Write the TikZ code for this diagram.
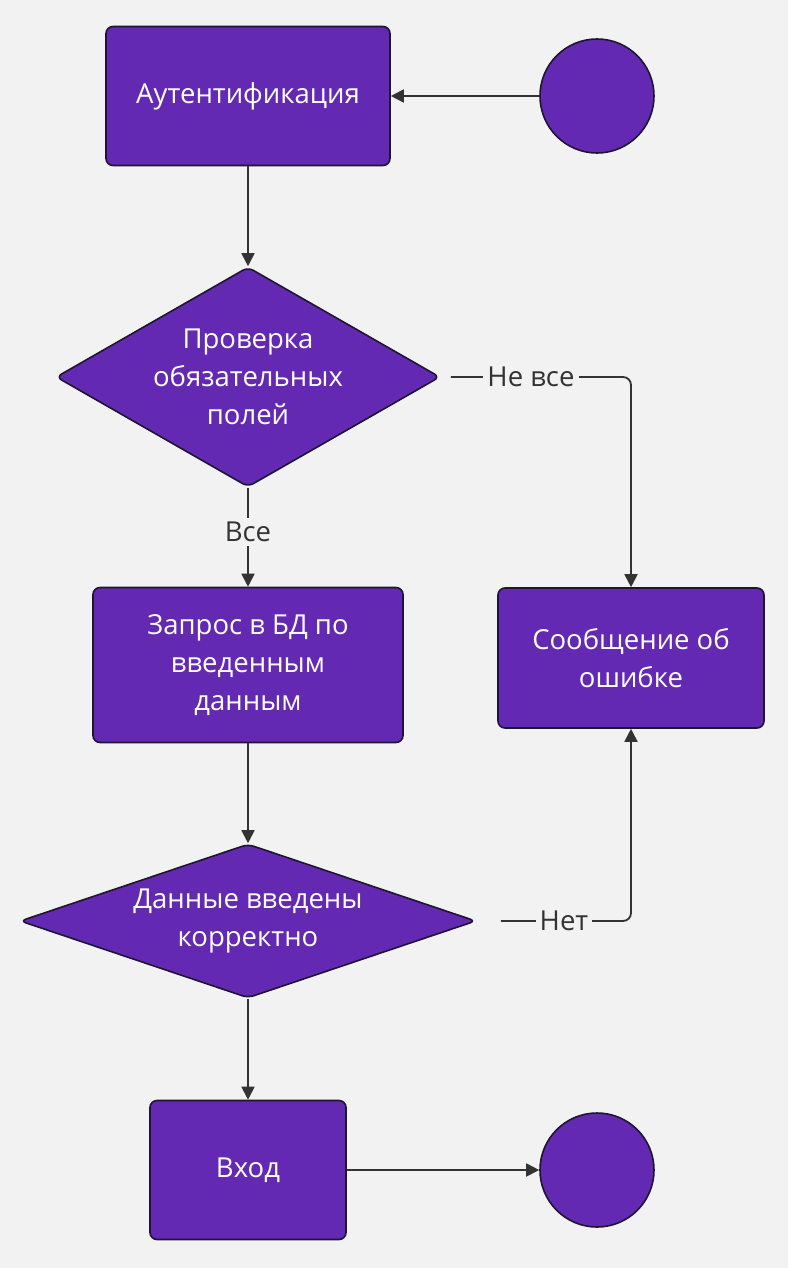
\documentclass[tikz,border=0pt]{standalone}
\usepackage{fontspec}
\setmainfont{Open Sans}
\usetikzlibrary{shapes.geometric,arrows.meta}
\definecolor{bg}{HTML}{F2F2F2}
\definecolor{nodefill}{HTML}{6429B2}
\definecolor{nodeline}{HTML}{1E1530}
\definecolor{edge}{HTML}{333333}
\tikzset{
  base/.style={fill=nodefill, draw=nodeline, line width=1.6pt, text=white, align=center,
    font=\fontsize{27.5}{38}\selectfont, inner sep=0pt},
  procbox/.style={base, rectangle, rounded corners=7pt},
  decision/.style={base, diamond, rounded corners=6pt},
  terminal/.style={base, circle, minimum size=114pt},
  conn/.style={draw=edge, line width=1.8pt, -{Triangle[length=13pt,width=13pt]}},
  elabel/.style={fill=bg, text=edge, font=\fontsize{27.5}{32}\selectfont, inner sep=4pt}
}
\begin{document}
\begin{tikzpicture}[x=1pt,y=-1pt]
\fill[bg] (0,0) rectangle (788,1268);
\useasboundingbox (0,0) rectangle (788,1268);

\node[procbox, minimum width=284pt, minimum height=139pt] (auth) at (248,96) {Аутентификация};
\node[terminal] (start) at (597,96) {};
\node[decision, aspect=1.745, minimum width=384pt, minimum height=220pt] (check) at (248,377) {Проверка\\обязательных\\полей};
\node[procbox, minimum width=310pt, minimum height=155pt] (query) at (248,665) {Запрос в БД по\\введенным\\данным};
\node[procbox, minimum width=266pt, minimum height=140pt] (err) at (631,658) {Сообщение об\\ошибке};
\node[decision, aspect=2.96, minimum width=456pt, minimum height=154pt] (valid) at (248,921) {Данные введены\\корректно};
\node[procbox, minimum width=196pt, minimum height=139pt] (enter) at (248,1170) {Вход};
\node[terminal] (finish) at (597,1170) {};

\draw[conn] (start) -- (auth);
\draw[conn] (auth) -- (check);
\draw[conn] (check) -- node[elabel, pos=0.45] {Все} (query);
\draw[conn, shorten <=10pt, rounded corners=8pt] (check.east) -- (err.north |- check.east) -- (err.north);
\node[elabel] at (531,377) {Не все};
\draw[conn] (query) -- (valid);
\draw[conn, shorten <=24pt, rounded corners=8pt] (valid.east) -- (err.south |- valid.east) -- (err.south);
\node[elabel] at (564,921) {Нет};
\draw[conn] (valid) -- (enter);
\draw[conn] (enter) -- (finish);
\end{tikzpicture}
\end{document}
